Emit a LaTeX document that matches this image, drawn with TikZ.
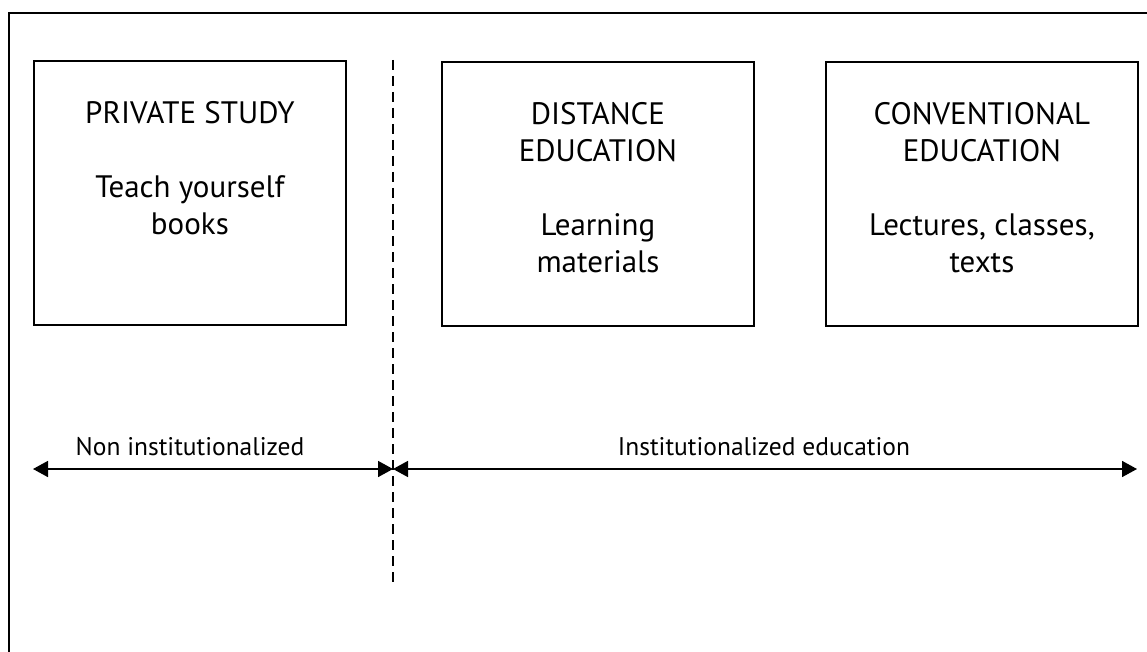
\documentclass[tikz,border=0pt]{standalone}
\usepackage{fontspec}
\setmainfont{PT Sans}
\usetikzlibrary{arrows.meta}
\begin{document}
\begin{tikzpicture}[x=1pt,y=-1pt,
  frame/.style={line width=1.5pt,black},
  catbox/.style={draw,line width=1.8pt,rectangle,minimum width=312pt,minimum height=264pt,anchor=north west,inner sep=0pt},
  boxtext/.style={align=center,anchor=north,inner sep=0pt,font=\fontsize{31}{37}\selectfont},
  divider/.style={line width=1.3pt,dash pattern=on 10pt off 6pt},
  span/.style={line width=1.6pt,{Triangle[length=15pt,width=16pt]}-{Triangle[length=15pt,width=16pt]}},
  spanlabel/.style={anchor=base,inner sep=0pt,font=\fontsize{25.5}{30}\selectfont}]
\useasboundingbox (0,0) rectangle (1147,652);
\fill[white] (0,0) rectangle (1147,652);
% outer frame (only top and left visible)
\coordinate (fbl) at (9,652);
\coordinate (ftl) at (9,13);
\coordinate (ftr) at (1147,13);
\draw[frame] (fbl) -- (ftl) -- (ftr);
% boxes
\node[catbox] (b1) at (33,60) {};
\node[catbox] (b2) at (441,61) {};
\node[catbox] (b3) at (825,61) {};
\node[boxtext] (t1) at ([yshift=-41pt]b1.north) {PRIVATE STUDY\\[37pt]Teach yourself\\books};
\node[boxtext] (t2) at ([yshift=-41pt]b2.north) {DISTANCE\\EDUCATION\\[37pt]Learning\\materials};
\node[boxtext] (t3) at ([yshift=-41pt]b3.north) {CONVENTIONAL\\EDUCATION\\[37pt]Lectures, classes,\\texts};
% divider
\coordinate (dtop) at (393,60);
\coordinate (dbot) at (393,585);
\draw[divider] (dtop) -- (dbot);
% spans
\coordinate (al) at (33,469);
\coordinate (am) at (393,469);
\coordinate (ar) at (1137,469);
\draw[span] (al) -- (am);
\draw[span] (am) -- (ar);
\node[spanlabel] (l1) at (190,455) {Non institutionalized};
\node[spanlabel] (l2) at (764,455) {Institutionalized education};
\end{tikzpicture}
\end{document}
